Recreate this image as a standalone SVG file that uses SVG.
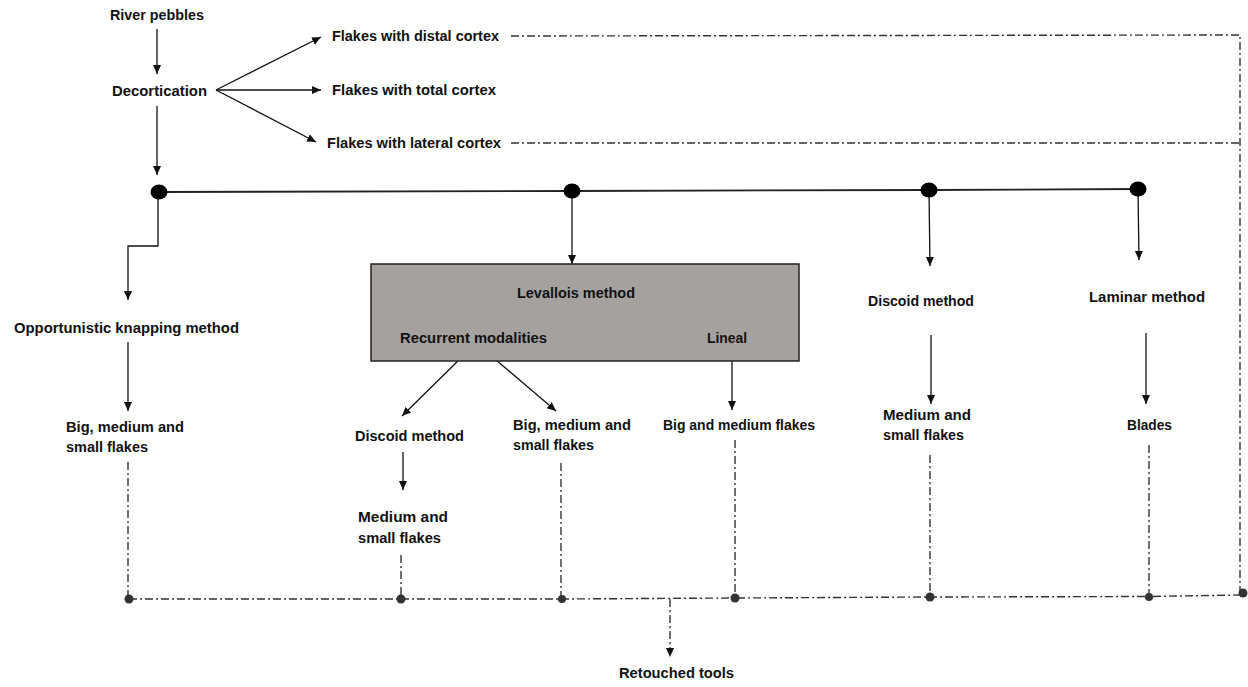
<svg xmlns="http://www.w3.org/2000/svg" width="1248" height="687" viewBox="0 0 1248 687">
<defs>
<style>
text{font-family:"Liberation Sans",Arial,sans-serif;font-weight:bold;font-size:14px;fill:#111}
.a{stroke:#111;stroke-width:1.3;fill:none}
.m{stroke:#222;stroke-width:1.8;fill:none}
.d{stroke:#333;stroke-width:1.4;fill:none;stroke-dasharray:8 3 2 3}
.bd{fill:#333}
</style>
<marker id="ah" markerWidth="10" markerHeight="10" refX="9" refY="5" orient="auto" markerUnits="userSpaceOnUse">
<path d="M0,1 L9,5 L0,9 Z" fill="#111"/>
</marker>
</defs>
<rect width="1248" height="687" fill="#fff"/>

<g id="connectors">
<line class="a" x1="157" y1="29" x2="157" y2="74" marker-end="url(#ah)"/>
<line class="a" x1="216" y1="90" x2="321" y2="37" marker-end="url(#ah)"/>
<line class="a" x1="216" y1="90" x2="321" y2="90" marker-end="url(#ah)"/>
<line class="a" x1="216" y1="90" x2="316" y2="142" marker-end="url(#ah)"/>
<line class="a" x1="157" y1="106" x2="157" y2="175" marker-end="url(#ah)"/>
<polyline class="m" points="159,192 572,191 929,190 1138,189"/>
<polyline class="a" points="158,192 158,246 128,246 128,300" marker-end="url(#ah)"/>
<line class="a" x1="128" y1="342" x2="128" y2="411" marker-end="url(#ah)"/>
<line class="a" x1="572" y1="191" x2="572" y2="264" marker-end="url(#ah)"/>
<line class="a" x1="465" y1="354" x2="402" y2="416" marker-end="url(#ah)"/>
<line class="a" x1="489" y1="354" x2="556" y2="411" marker-end="url(#ah)"/>
<line class="a" x1="732" y1="353" x2="732" y2="410" marker-end="url(#ah)"/>
<line class="a" x1="403" y1="452" x2="403" y2="490" marker-end="url(#ah)"/>
<line class="a" x1="929" y1="191" x2="930" y2="266" marker-end="url(#ah)"/>
<line class="a" x1="931" y1="335" x2="931" y2="404" marker-end="url(#ah)"/>
<line class="a" x1="1138" y1="190" x2="1139" y2="260" marker-end="url(#ah)"/>
<line class="a" x1="1146" y1="333" x2="1146" y2="404" marker-end="url(#ah)"/>
<polyline class="d" points="511,36 1240,35 1240,592"/>
<line class="d" x1="511" y1="143" x2="1240" y2="143"/>
<line class="d" x1="128" y1="462" x2="128" y2="599"/>
<line class="d" x1="401" y1="555" x2="401" y2="599"/>
<line class="d" x1="561" y1="463" x2="561" y2="599"/>
<line class="d" x1="735" y1="440" x2="735" y2="598"/>
<line class="d" x1="930" y1="455" x2="930" y2="597"/>
<line class="d" x1="1149" y1="445" x2="1149" y2="597"/>
<polyline class="d" points="129,599 562,599 735,598 930,597 1149,596.5 1240,595"/>
<line class="d" x1="670" y1="599" x2="670" y2="657" marker-end="url(#ah)"/>
<circle class="bd" cx="129" cy="599" r="4.5"/>
<circle class="bd" cx="401" cy="599" r="4.5"/>
<circle class="bd" cx="562" cy="599" r="4"/>
<circle class="bd" cx="735" cy="598" r="4.5"/>
<circle class="bd" cx="930" cy="597" r="4.5"/>
<circle class="bd" cx="1149" cy="597" r="4"/>
<circle class="bd" cx="1243" cy="593" r="4.5"/>
</g>

<g id="junctions">
<ellipse cx="159" cy="192" rx="8.5" ry="7.5" fill="#000"/>
<ellipse cx="572" cy="191" rx="8.5" ry="7.5" fill="#000"/>
<ellipse cx="929" cy="190" rx="8.5" ry="7.5" fill="#000"/>
<ellipse cx="1138" cy="189" rx="8.5" ry="7.5" fill="#000"/>
</g>

<g id="river-pebbles"><text x="110" y="20" textLength="94" lengthAdjust="spacingAndGlyphs">River pebbles</text></g>
<g id="decortication"><text x="112" y="96" textLength="95" lengthAdjust="spacingAndGlyphs">Decortication</text></g>
<g id="flakes-distal"><text x="332" y="41" textLength="167" lengthAdjust="spacingAndGlyphs">Flakes with distal cortex</text></g>
<g id="flakes-total"><text x="332" y="95" textLength="164" lengthAdjust="spacingAndGlyphs">Flakes with total cortex</text></g>
<g id="flakes-lateral"><text x="327" y="148" textLength="174" lengthAdjust="spacingAndGlyphs">Flakes with lateral cortex</text></g>

<g id="opportunistic"><text x="14" y="333" textLength="225" lengthAdjust="spacingAndGlyphs">Opportunistic knapping method</text></g>
<g id="opp-flakes">
<text x="66" y="432" textLength="118" lengthAdjust="spacingAndGlyphs">Big, medium and</text>
<text x="66" y="452" textLength="82" lengthAdjust="spacingAndGlyphs">small flakes</text>
</g>

<g id="levallois">
<rect x="371" y="264" width="428" height="97" fill="#a5a19f" stroke="#222" stroke-width="1.5"/>
<text x="517" y="298" textLength="118" lengthAdjust="spacingAndGlyphs">Levallois method</text>
<text x="400" y="343" textLength="147" lengthAdjust="spacingAndGlyphs">Recurrent modalities</text>
<text x="707" y="343" textLength="40" lengthAdjust="spacingAndGlyphs">Lineal</text>
</g>

<g id="lev-discoid"><text x="355" y="441" textLength="109" lengthAdjust="spacingAndGlyphs">Discoid method</text></g>
<g id="lev-discoid-flakes">
<text x="358" y="522" textLength="90" lengthAdjust="spacingAndGlyphs">Medium and</text>
<text x="358" y="543" textLength="83" lengthAdjust="spacingAndGlyphs">small flakes</text>
</g>
<g id="lev-recurrent-flakes">
<text x="513" y="430" textLength="118" lengthAdjust="spacingAndGlyphs">Big, medium and</text>
<text x="513" y="450" textLength="81" lengthAdjust="spacingAndGlyphs">small flakes</text>
</g>
<g id="lev-lineal-flakes"><text x="663" y="430" textLength="152" lengthAdjust="spacingAndGlyphs">Big and medium flakes</text></g>

<g id="discoid"><text x="868" y="306" textLength="106" lengthAdjust="spacingAndGlyphs">Discoid method</text></g>
<g id="discoid-flakes">
<text x="883" y="420" textLength="88" lengthAdjust="spacingAndGlyphs">Medium and</text>
<text x="883" y="440" textLength="81" lengthAdjust="spacingAndGlyphs">small flakes</text>
</g>

<g id="laminar"><text x="1089" y="302" textLength="116" lengthAdjust="spacingAndGlyphs">Laminar method</text></g>
<g id="blades"><text x="1127" y="430" textLength="45" lengthAdjust="spacingAndGlyphs">Blades</text></g>

<g id="retouched"><text x="619" y="678" textLength="115" lengthAdjust="spacingAndGlyphs">Retouched tools</text></g>
</svg>
